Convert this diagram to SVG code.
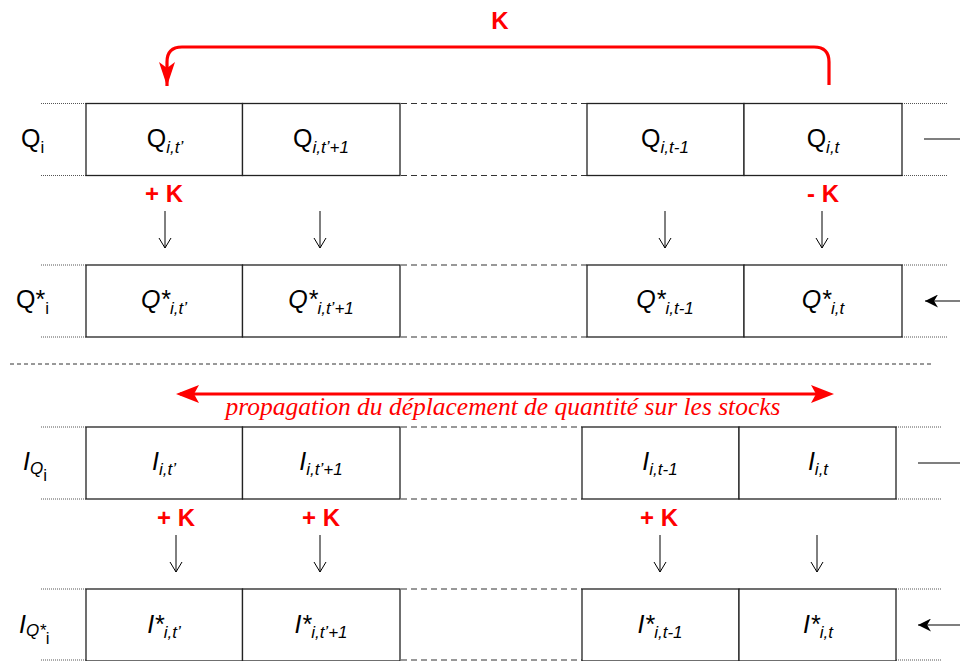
<svg xmlns="http://www.w3.org/2000/svg" width="960" height="661" viewBox="0 0 960 661">
<defs>
<style>
.box{fill:#fff;stroke:#222;stroke-width:1.3}
.dot{stroke:#555;stroke-width:1;stroke-dasharray:1,1;fill:none}
.dash{stroke:#333;stroke-width:1.2;stroke-dasharray:6,4;fill:none}
.cell{font-family:"Liberation Sans",Arial,sans-serif;font-size:25px;fill:#000}
.it{font-style:italic}
.sub{font-family:"Liberation Sans",Arial,sans-serif;font-size:17px;font-style:italic}
.lab{font-family:"Liberation Sans",Arial,sans-serif;font-size:25px;fill:#000}
.red{font-family:"Liberation Sans",Arial,sans-serif;font-size:24px;font-weight:bold;fill:#f00}
.darr{stroke:#000;stroke-width:1;fill:none}
.prop{font-family:"Liberation Serif","Times New Roman",serif;font-style:italic;font-size:25.5px;fill:#f00}
</style>
<marker id="ah" viewBox="0 0 10 10" refX="10" refY="5" markerWidth="13" markerHeight="13" markerUnits="userSpaceOnUse" orient="auto">
<path d="M0,0 L10,5 L0,10 L3,5 Z" fill="#000"/>
</marker>
<marker id="rh" viewBox="0 0 10 10" refX="10" refY="5" markerWidth="24" markerHeight="16" markerUnits="userSpaceOnUse" orient="auto" preserveAspectRatio="none">
<path d="M0,0 L10,5 L0,10 L2.5,5 Z" fill="#f00"/>
</marker>
</defs>
<rect width="960" height="661" fill="#fff"/>

<!-- Row 1: Q -->
<g id="row-q">
<line class="dot" x1="41" y1="103.5" x2="86" y2="103.5"/>
<line class="dot" x1="41" y1="175.5" x2="86" y2="175.5"/>
<line class="dash" x1="401" y1="103.5" x2="587" y2="103.5"/>
<line class="dash" x1="401" y1="175.5" x2="587" y2="175.5"/>
<line class="dot" x1="902" y1="103.5" x2="947" y2="103.5"/>
<line class="dot" x1="902" y1="175.5" x2="947" y2="175.5"/>
<text class="lab" x="21" y="147">Q<tspan font-size="17" dy="6">i</tspan></text>
</g>
<g id="q1"><rect class="box" x="86" y="103.5" width="156.5" height="72"/>
<text class="cell" x="165" y="147" text-anchor="middle">Q<tspan class="sub" dy="6">i,t’</tspan></text></g>
<g id="q2"><rect class="box" x="242.5" y="103.5" width="157.5" height="72"/>
<text class="cell" x="321" y="147" text-anchor="middle">Q<tspan class="sub" dy="6">i,t’+1</tspan></text></g>
<g id="q3"><rect class="box" x="587" y="103.5" width="157" height="72"/>
<text class="cell" x="665" y="147" text-anchor="middle">Q<tspan class="sub" dy="6">i,t-1</tspan></text></g>
<g id="q4"><rect class="box" x="744" y="103.5" width="158" height="72"/>
<text class="cell" x="823" y="147" text-anchor="middle">Q<tspan class="sub" dy="6">i,t</tspan></text></g>

<!-- Row 2: Q* -->
<g id="row-qs">
<line class="dot" x1="41" y1="265" x2="86" y2="265"/>
<line class="dot" x1="41" y1="337" x2="86" y2="337"/>
<line class="dash" x1="401" y1="265" x2="587" y2="265"/>
<line class="dash" x1="401" y1="337" x2="587" y2="337"/>
<line class="dot" x1="902" y1="265" x2="947" y2="265"/>
<line class="dot" x1="902" y1="337" x2="947" y2="337"/>
<text class="lab" x="16" y="308">Q*<tspan font-size="17" dy="6">i</tspan></text>
</g>
<g id="qs1"><rect class="box" x="86" y="265" width="156.5" height="72"/>
<text class="cell it" x="164" y="308" text-anchor="middle">Q*<tspan class="sub" dy="6">i,t’</tspan></text></g>
<g id="qs2"><rect class="box" x="242.5" y="265" width="157.5" height="72"/>
<text class="cell it" x="321" y="308" text-anchor="middle">Q*<tspan class="sub" dy="6">i,t’+1</tspan></text></g>
<g id="qs3"><rect class="box" x="587" y="265" width="157" height="72"/>
<text class="cell it" x="665" y="308" text-anchor="middle">Q*<tspan class="sub" dy="6">i,t-1</tspan></text></g>
<g id="qs4"><rect class="box" x="744" y="265" width="158" height="72"/>
<text class="cell it" x="823" y="308" text-anchor="middle">Q*<tspan class="sub" dy="6">i,t</tspan></text></g>

<line x1="10" y1="364" x2="932" y2="364" stroke="#333" stroke-width="1" stroke-dasharray="4,3"/>

<!-- Row 3: I -->
<g id="row-i">
<line class="dot" x1="41" y1="427" x2="86" y2="427"/>
<line class="dot" x1="41" y1="499" x2="86" y2="499"/>
<line class="dash" x1="401" y1="427" x2="582" y2="427"/>
<line class="dash" x1="401" y1="499" x2="582" y2="499"/>
<line class="dot" x1="896" y1="427" x2="941" y2="427"/>
<line class="dot" x1="896" y1="499" x2="941" y2="499"/>
<text class="lab it" x="23" y="470">I<tspan class="sub" dy="4">Q</tspan><tspan font-size="17" font-style="normal" dy="7">i</tspan></text>
</g>
<g id="i1"><rect class="box" x="86" y="427" width="156.5" height="72"/>
<text class="cell it" x="164" y="470" text-anchor="middle">I<tspan class="sub" dy="5">i,t’</tspan></text></g>
<g id="i2"><rect class="box" x="242.5" y="427" width="157.5" height="72"/>
<text class="cell it" x="321" y="470" text-anchor="middle">I<tspan class="sub" dy="5">i,t’+1</tspan></text></g>
<g id="i3"><rect class="box" x="582" y="427" width="157" height="72"/>
<text class="cell it" x="660" y="470" text-anchor="middle">I<tspan class="sub" dy="5">i,t-1</tspan></text></g>
<g id="i4"><rect class="box" x="739" y="427" width="157" height="72"/>
<text class="cell it" x="818" y="470" text-anchor="middle">I<tspan class="sub" dy="5">i,t</tspan></text></g>

<!-- Row 4: I* -->
<g id="row-is">
<line class="dot" x1="41" y1="589" x2="86" y2="589"/>
<line class="dot" x1="41" y1="660" x2="86" y2="660"/>
<line class="dash" x1="401" y1="589" x2="582" y2="589"/>
<line class="dash" x1="401" y1="660" x2="582" y2="660"/>
<line class="dot" x1="896" y1="589" x2="941" y2="589"/>
<line class="dot" x1="896" y1="660" x2="941" y2="660"/>
<text class="lab it" x="19" y="633">I<tspan class="sub" dy="3">Q*</tspan><tspan font-size="17" font-style="normal" dy="8">i</tspan></text>
</g>
<g id="is1"><rect class="box" x="86" y="589" width="156.5" height="72"/>
<text class="cell it" x="164" y="633" text-anchor="middle">I*<tspan class="sub" dy="5">i,t’</tspan></text></g>
<g id="is2"><rect class="box" x="242.5" y="589" width="157.5" height="72"/>
<text class="cell it" x="321" y="633" text-anchor="middle">I*<tspan class="sub" dy="5">i,t’+1</tspan></text></g>
<g id="is3"><rect class="box" x="582" y="589" width="157" height="72"/>
<text class="cell it" x="660" y="633" text-anchor="middle">I*<tspan class="sub" dy="5">i,t-1</tspan></text></g>
<g id="is4"><rect class="box" x="739" y="589" width="157" height="72"/>
<text class="cell it" x="818" y="633" text-anchor="middle">I*<tspan class="sub" dy="5">i,t</tspan></text></g>

<!-- Connectors -->
<g id="connectors">
<path d="M829,85 V62 Q829,47 814,47 H182 Q167,47 167,62 V86" fill="none" stroke="#f00" stroke-width="3.2" marker-end="url(#rh)"/>
<line x1="924" y1="139" x2="960" y2="139" stroke="#000" stroke-width="1.2"/>
<line x1="960" y1="301" x2="925" y2="301" stroke="#000" stroke-width="1.2" marker-end="url(#ah)"/>
<line x1="918" y1="463" x2="960" y2="463" stroke="#000" stroke-width="1.2"/>
<line x1="960" y1="625" x2="918" y2="625" stroke="#000" stroke-width="1.2" marker-end="url(#ah)"/>
<g class="darr">
<path d="M165,211 V248 M159,238 L165,248 L171,238"/>
<path d="M320,211 V248 M314,238 L320,248 L326,238"/>
<path d="M665,211 V248 M659,238 L665,248 L671,238"/>
<path d="M822,211 V248 M816,238 L822,248 L828,238"/>
<path d="M176,535 V572 M170,562 L176,572 L182,562"/>
<path d="M320,535 V572 M314,562 L320,572 L326,562"/>
<path d="M660,535 V572 M654,562 L660,572 L666,562"/>
<path d="M817,535 V572 M811,562 L817,572 L823,562"/>
</g>
<path d="M180,394 H829" fill="none" stroke="#f00" stroke-width="3.2"/>
<path d="M176,394 L199,385 L194,394 L199,403 Z" fill="#f00"/>
<path d="M834,394 L811,385 L816,394 L811,403 Z" fill="#f00"/>
</g>

<text class="red" x="500" y="29" text-anchor="middle">K</text>
<text class="red" x="164" y="202" text-anchor="middle">+ K</text>
<text class="red" x="823" y="202" text-anchor="middle">- K</text>
<text class="red" x="176" y="526" text-anchor="middle">+ K</text>
<text class="red" x="321" y="526" text-anchor="middle">+ K</text>
<text class="red" x="659" y="526" text-anchor="middle">+ K</text>
<text class="prop" x="503" y="415" text-anchor="middle">propagation du déplacement de quantité sur les stocks</text>
</svg>
